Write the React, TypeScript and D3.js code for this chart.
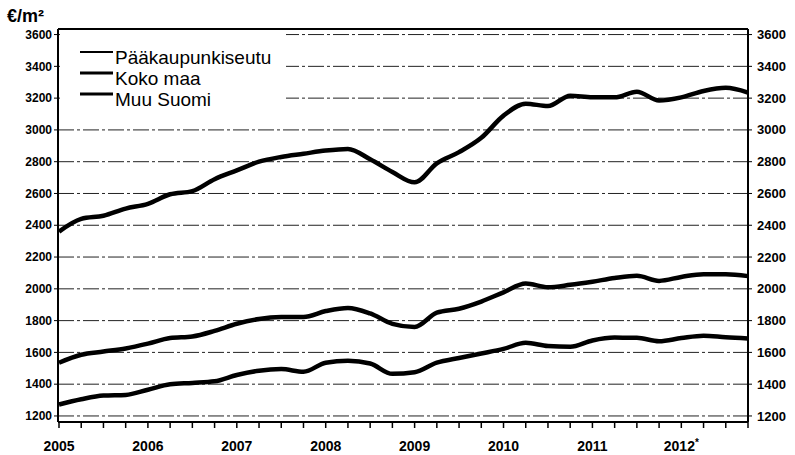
import * as d3 from "d3";

const quarters = d3.range(0, 32);
const yearLabels = ["2005", "2006", "2007", "2008", "2009", "2010", "2011", "2012*"];
const yTicks = [1200, 1400, 1600, 1800, 2000, 2200, 2400, 2600, 2800, 3000, 3200, 3400, 3600];

const paakaupunkiseutu = [
  2360, 2440, 2460, 2505, 2535, 2595, 2615, 2690, 2745, 2800, 2830, 2850, 2870, 2880, 2815, 2735,
  2670, 2790, 2860, 2950, 3090, 3165, 3150, 3215, 3205, 3205, 3240, 3185, 3205, 3245, 3265, 3235,
];
const kokoMaa = [
  1535, 1585, 1605, 1625, 1655, 1690, 1700, 1735, 1780, 1810, 1822, 1823, 1860, 1880, 1845, 1780,
  1760, 1850, 1875, 1920, 1978, 2033, 2010, 2025, 2045, 2068, 2082, 2050, 2075, 2092, 2092, 2080,
];
const muuSuomi = [
  1272, 1305, 1328, 1332, 1365, 1400, 1408, 1418, 1458, 1485, 1495, 1478, 1535, 1547, 1530, 1465,
  1475, 1535, 1565, 1593, 1622, 1660, 1640, 1635, 1675, 1693, 1692, 1670, 1690, 1705, 1695, 1688,
];

const series = [
  { name: "Pääkaupunkiseutu", values: paakaupunkiseutu, legendWidth: 2 },
  { name: "Koko maa", values: kokoMaa, legendWidth: 3 },
  { name: "Muu Suomi", values: muuSuomi, legendWidth: 3 },
];

const App = () => {
  const width = 795;
  const height = 455;
  const left = 58;
  const right = 748;
  const top = 29;
  const bottom = 422;

  const xScale = d3.scaleLinear().domain([0, 31]).range([left + 1, right]);
  const yScale = d3.scaleLinear().domain([1162, 3635]).range([bottom, top]);

  const line = d3
    .line<number>()
    .x((_, i) => xScale(i))
    .y((d) => yScale(d))
    .curve(d3.curveMonotoneX);

  const font = "Arial, 'Liberation Sans', sans-serif";

  return (
    <svg
      width={width}
      height={height}
      style={{ position: "absolute", left: 0, top: 0, background: "#fff" }}
      fontFamily={font}
    >
      <rect width={width} height={height} fill="#fff" />
      <text x={7} y={22} fontSize={18} fontWeight="bold">
        €/m²
      </text>

      {/* grid */}
      {yTicks.map((t) => (
        <line
          key={t}
          x1={left}
          x2={right}
          y1={yScale(t)}
          y2={yScale(t)}
          stroke="#222"
          strokeWidth={1}
          strokeDasharray="16,3,3,3"
        />
      ))}

      {/* legend box hides the grid */}
      <rect x={left + 2} y={top + 2} width={226} height={76} fill="#fff" />

      {series.map((s) => (
        <path
          key={s.name}
          d={line(s.values)!}
          fill="none"
          stroke="#000"
          strokeWidth={4.5}
          strokeLinejoin="round"
        />
      ))}

      {/* frame */}
      <line x1={left} x2={right} y1={top} y2={top} stroke="#000" strokeWidth={2} />
      <line x1={left} x2={right} y1={bottom} y2={bottom} stroke="#000" strokeWidth={2} />
      <line x1={left} x2={left} y1={top} y2={bottom} stroke="#000" strokeWidth={2} />
      <line x1={right} x2={right} y1={top} y2={bottom} stroke="#000" strokeWidth={2} />

      {yTicks.map((t) => (
        <g key={t}>
          <line x1={left - 4} x2={left} y1={yScale(t)} y2={yScale(t)} stroke="#000" />
          <line x1={right} x2={right + 4} y1={yScale(t)} y2={yScale(t)} stroke="#000" />
          <text
            x={left - 6}
            y={yScale(t)}
            dy="0.35em"
            textAnchor="end"
            fontSize={12}
            fontWeight="bold"
          >
            {t}
          </text>
          <text x={right + 9} y={yScale(t)} dy="0.35em" fontSize={13} fontWeight="bold">
            {t}
          </text>
        </g>
      ))}

      {quarters.map((q) => (
        <line
          key={q}
          x1={xScale(q)}
          x2={xScale(q)}
          y1={bottom}
          y2={bottom + 6}
          stroke="#000"
          strokeWidth={1.5}
        />
      ))}
      {yearLabels.map((label, i) => (
        <text
          key={label}
          x={xScale(i * 4)}
          y={451}
          textAnchor="middle"
          fontSize={14}
          fontWeight="bold"
        >
          {label.replace("*", "")}
          {label.endsWith("*") && (
            <tspan fontSize={10} dy={-5}>
              *
            </tspan>
          )}
        </text>
      ))}

      {/* legend */}
      {series.map((s, i) => (
        <g key={s.name} transform={`translate(80,${52 + i * 21})`}>
          <line x1={0} x2={33} y1={0} y2={0} stroke="#000" strokeWidth={s.legendWidth} />
          <text x={35} y={12} fontSize={19}>
            {s.name}
          </text>
        </g>
      ))}
    </svg>
  );
};

export default App;
